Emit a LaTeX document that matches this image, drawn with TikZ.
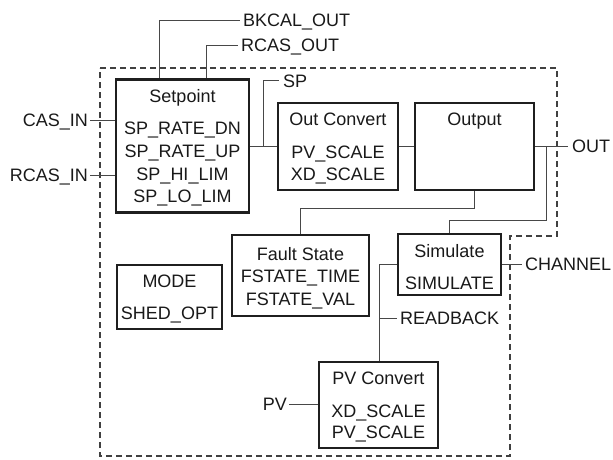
\documentclass[tikz,border=0pt]{standalone}
\usepackage{fontspec}
\setmainfont{Liberation Sans}
\begin{document}
\begin{tikzpicture}[x=1pt,y=-1pt,
  font=\fontsize{18}{20}\selectfont,
  blk/.style={draw=black!88,line width=2.2pt,inner sep=0,fill=white},
  lbl/.style={inner sep=0,text height=12.9pt,text depth=0pt,text=black!90},
  wire/.style={draw=black!72,line width=1pt},
  bound/.style={draw=black!75,line width=1.2pt,dash pattern=on 6pt off 4pt}]
\useasboundingbox (0,0) rectangle (613,459);
% dashed outline
\draw[bound] (100,68) -- (557,68) -- (557,236) -- (510,236) -- (510,456) -- (100,456) -- cycle;
% blocks
\node[blk,minimum width=133pt,minimum height=133pt] (sp) at (182.5,146) {};
\node[blk,minimum width=120pt,minimum height=87pt] (oc) at (338,146.5) {};
\node[blk,minimum width=119pt,minimum height=87pt] (out) at (474.5,146.5) {};
\node[blk,minimum width=137pt,minimum height=81pt] (fs) at (300.5,275.5) {};
\node[blk,minimum width=105pt,minimum height=64pt] (mode) at (169.5,297) {};
\node[blk,minimum width=103pt,minimum height=61pt] (sim) at (449.5,264.5) {};
\node[blk,minimum width=119pt,minimum height=86pt] (pvc) at (378.5,405) {};
% block texts
\node[lbl] (t1) at (182.5,96) {Setpoint};
\node[lbl] (t2) at (182.5,128) {SP\_RATE\_DN};
\node[lbl] (t3) at (182.5,151) {SP\_RATE\_UP};
\node[lbl] (t4) at (182.5,174) {SP\_HI\_LIM};
\node[lbl] (t5) at (182.5,196) {SP\_LO\_LIM};
\node[lbl] (t6) at (338,119) {Out Convert};
\node[lbl] (t7) at (338,152) {PV\_SCALE};
\node[lbl] (t8) at (338,174) {XD\_SCALE};
\node[lbl] (t9) at (474.5,119) {Output};
\node[lbl] (t10) at (300.5,254) {Fault State};
\node[lbl] (t11) at (300.5,276) {FSTATE\_TIME};
\node[lbl] (t12) at (300.5,299) {FSTATE\_VAL};
\node[lbl] (t13) at (169.5,281) {MODE};
\node[lbl] (t14) at (169.5,313) {SHED\_OPT};
\node[lbl] (t15) at (449.5,251) {Simulate};
\node[lbl] (t16) at (449.5,283) {SIMULATE};
\node[lbl] (t17) at (378.5,378) {PV Convert};
\node[lbl] (t18) at (378.5,411) {XD\_SCALE};
\node[lbl] (t19) at (378.5,432) {PV\_SCALE};
% external labels
\coordinate (bkend) at (240,20);
\coordinate (rcend) at (238,45);
\node[lbl,anchor=west] (bk) at (243,20) {BKCAL\_OUT};
\node[lbl,anchor=west] (rc) at (241,45) {RCAS\_OUT};
\node[lbl,anchor=east] (cas) at (88,120) {CAS\_IN};
\node[lbl,anchor=east] (rcin) at (88,175) {RCAS\_IN};
\node[lbl,anchor=west] (spl) at (283,81) {SP};
\node[lbl,anchor=west] (outl) at (572,146) {OUT};
\node[lbl,anchor=west] (ch) at (525,264) {CHANNEL};
\node[lbl,anchor=west] (rb) at (400,318) {READBACK};
\node[lbl,anchor=east] (pvl) at (287,404) {PV};
% connectors
\draw[wire] ([xshift=-23.5pt]sp.north) |- (bkend);
\draw[wire] ([xshift=23.5pt]sp.north) |- (rcend);
\draw[wire] ([xshift=2pt]cas.east) -- (cas.east -| sp.west);
\draw[wire] ([xshift=2pt]rcin.east) -- (rcin.east -| sp.west);
\coordinate (spb) at (263,146);
\coordinate (spe) at (279,80);
\draw[wire] (sp.east |- spb) -- (oc.west |- spb);
\draw[wire] (spb) |- (spe);
\draw[wire] (oc.east |- spb) -- (out.west |- spb);
\coordinate (outb) at (546,146);
\coordinate (oute) at (568,146);
\draw[wire] (out.east |- outb) -- (oute);
\coordinate (sj) at (546,220);
\draw[wire] (outb) -- (sj) -- (sim.north |- sj) -- (sim.north);
\coordinate (fj) at (474.5,208);
\draw[wire] (out.south) -- (fj) -- (fs.north |- fj) -- (fs.north);
\coordinate (che) at (522,264);
\draw[wire] (sim.east |- che) -- (che);
\coordinate (rj) at (379,264);
\draw[wire] (sim.west |- rj) -- (rj) -- (rj |- pvc.north);
\coordinate (rbj) at (379,318);
\coordinate (rbe) at (397,318);
\draw[wire] (rbj) -- (rbe);
\draw[wire] ([xshift=2pt]pvl.east) -- (pvl.east -| pvc.west);
\end{tikzpicture}
\end{document}
